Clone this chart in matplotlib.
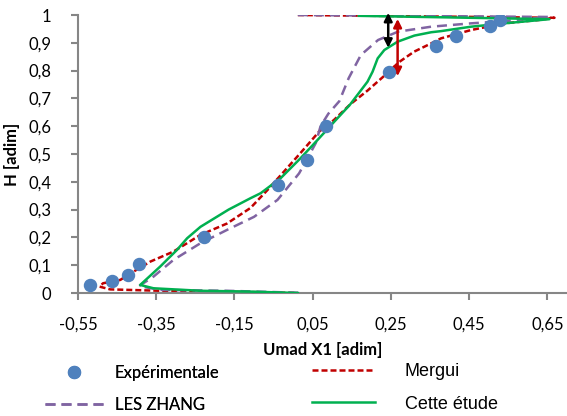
import matplotlib
matplotlib.use("Agg")
import matplotlib.pyplot as plt
from matplotlib.lines import Line2D

# données
exp_x = [-0.519, -0.462, -0.422, -0.394, -0.229, -0.04, 0.035, 0.085, 0.244, 0.364, 0.415, 0.503, 0.53]
exp_y = [0.029, 0.044, 0.065, 0.103, 0.20, 0.39, 0.48, 0.60, 0.795, 0.887, 0.924, 0.96, 0.982]

mergui_x = [0.012, 0.668, 0.627, 0.54, 0.455, 0.378, 0.353, 0.309, 0.27, 0.244, 0.19, 0.147, 0.104, 0.066,
            0.019, -0.024, -0.066, -0.109, -0.169, -0.237, -0.306, -0.365, -0.408, -0.442, -0.486, -0.495,
            -0.468, -0.34, -0.169, 0.012]
mergui_y = [1.0, 0.99, 0.982, 0.97, 0.946, 0.916, 0.898, 0.868, 0.83, 0.795, 0.728, 0.68, 0.622, 0.58,
            0.504, 0.436, 0.37, 0.306, 0.25, 0.209, 0.149, 0.113, 0.077, 0.047, 0.035, 0.023,
            0.013, 0.008, 0.005, 0.0]

zhang_x = [0.012, 0.652, 0.54, 0.455, 0.353, 0.268, 0.217, 0.173, 0.142, 0.118, 0.09, 0.07, 0.058, 0.035,
           0.015, -0.04, -0.10, -0.169, -0.237, -0.306, -0.357, -0.394, -0.34, -0.169, 0.012]
zhang_y = [1.0, 0.993, 0.978, 0.97, 0.958, 0.94, 0.91, 0.856, 0.773, 0.69, 0.645, 0.6, 0.54, 0.48,
           0.43, 0.335, 0.274, 0.227, 0.179, 0.119, 0.059, 0.025, 0.011, 0.008, 0.001]

cette_x = [0.168, 0.655, 0.54, 0.455, 0.378, 0.353, 0.31, 0.267, 0.233, 0.216, 0.203, 0.19, 0.164, 0.145,
           0.105, 0.062, 0.019, -0.032, -0.083, -0.109, -0.165, -0.237, -0.271, -0.297, -0.34, -0.391,
           -0.357, -0.237, -0.109, 0.012]
cette_y = [0.997, 0.985, 0.97, 0.958, 0.942, 0.938, 0.926, 0.904, 0.874, 0.844, 0.796, 0.76, 0.712, 0.677,
           0.616, 0.55, 0.485, 0.413, 0.359, 0.341, 0.30, 0.238, 0.197, 0.155, 0.095, 0.029,
           0.017, 0.008, 0.005, 0.0]

xticks = [-0.55, -0.35, -0.15, 0.05, 0.25, 0.45, 0.65]
yticks = [0, 0.1, 0.2, 0.3, 0.4, 0.5, 0.6, 0.7, 0.8, 0.9, 1.0]

bleu = "#4f81bd"
rouge = "#c00000"
violet = "#8064a2"
vert = "#00b050"
gris = "#868686"

plt.rcParams['font.family'] = ['Lato', 'DejaVu Sans']

fig = plt.figure(figsize=(5.67, 4.16), dpi=100)
ax = fig.add_axes([78/567, 123/416, 1 - 78/567, 278/416])

ax.plot(mergui_x, mergui_y, color=rouge, lw=1.8, dashes=(2.4, 1.2), label="Mergui", zorder=2)
ax.plot(zhang_x, zhang_y, color=violet, lw=1.8, dashes=(4, 2.4), label="LES ZHANG", zorder=2)
ax.plot(cette_x, cette_y, color=vert, lw=1.8, label="Cette étude", zorder=3)
ax.scatter(exp_x, exp_y, s=75, color=bleu, zorder=4, label="Expérimentale")

# flèches d'écart
ax.annotate("", xy=(0.243, 1.008), xytext=(0.243, 0.882),
            arrowprops=dict(arrowstyle="<|-|>", color="black", lw=1.8, mutation_scale=12,
                            shrinkA=0, shrinkB=0), annotation_clip=False)
ax.annotate("", xy=(0.267, 0.986), xytext=(0.267, 0.78),
            arrowprops=dict(arrowstyle="<|-|>", color=rouge, lw=1.8, mutation_scale=12,
                            shrinkA=0, shrinkB=0), annotation_clip=False)

ax.set_xlim(-0.55, 0.70)
ax.set_ylim(0, 1)
ax.set_xticks(xticks)
ax.set_yticks(yticks)
ax.set_xticklabels([("%.2f" % v).replace(".", ",") for v in xticks])
ax.set_yticklabels(["0", "0,1", "0,2", "0,3", "0,4", "0,5", "0,6", "0,7", "0,8", "0,9", "1"])

for s in ["top", "right"]:
    ax.spines[s].set_visible(False)
for s in ["left", "bottom"]:
    ax.spines[s].set_color(gris)
    ax.spines[s].set_linewidth(1.5)
ax.tick_params(axis="both", colors=gris, width=1.5, length=5, labelcolor="black", labelsize=12)
ax.tick_params(axis="x", pad=12)
ax.tick_params(axis="y", pad=14)

ax.set_xlabel("Umad X1 [adim]", fontsize=12, fontweight="bold", labelpad=7)
ax.set_ylabel("H [adim]", fontsize=12, fontweight="bold", labelpad=6)

# légende en deux colonnes (polices différentes comme l'original)
h1 = [Line2D([], [], ls="none", marker="o", ms=8.6, color=bleu),
      Line2D([], [], color=violet, lw=1.8, dashes=(4, 2.4))]
h2 = [Line2D([], [], color=rouge, lw=1.8, dashes=(2.4, 1.2)),
      Line2D([], [], color=vert, lw=1.8)]
leg1 = fig.legend(h1, ["Expérimentale", "LES ZHANG"], loc="upper left",
                  bbox_to_anchor=(45/567, 51/416), frameon=False, borderpad=0, borderaxespad=0,
                  fontsize=12, handlelength=3.5, handletextpad=0.7, labelspacing=0.97)
leg2 = fig.legend(h2, ["Mergui", "Cette étude"], loc="upper left",
                  bbox_to_anchor=(312/567, 53/416), frameon=False, borderpad=0, borderaxespad=0,
                  prop={"family": ["Liberation Sans", "DejaVu Sans"], "size": 13},
                  handlelength=3.5, handletextpad=1.65, labelspacing=0.87)
fig.add_artist(leg1)

fig.savefig("out.png", dpi=100)
